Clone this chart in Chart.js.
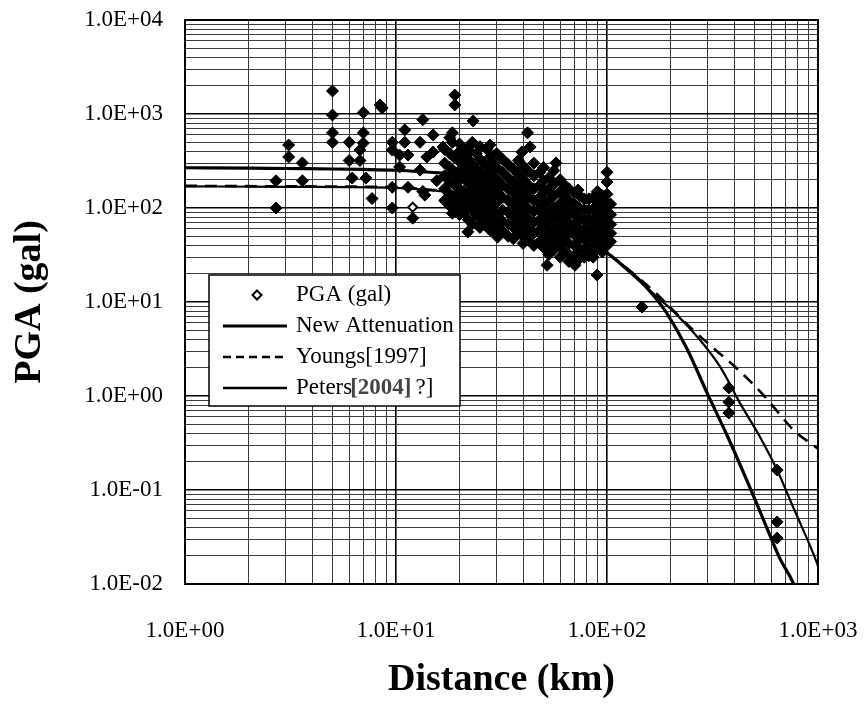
<!DOCTYPE html>
<html>
<head>
<meta charset="utf-8">
<script src="https://cdn.jsdelivr.net/npm/chart.js@4.4.1/dist/chart.umd.min.js"></script>
<style>
  html, body { margin: 0; padding: 0; background: #fff; }
  canvas { display: block; }
</style>
</head>
<body>
<canvas id="c" width="865" height="713"></canvas>
<script>
// ---------- Axis ticks ----------
const xDecades = [1, 10, 100, 1000];
const xTickLabels = ['1.0E+00', '1.0E+01', '1.0E+02', '1.0E+03'];
const yDecades = [0.01, 0.1, 1, 10, 100, 1000, 10000];
const yTickLabels = ['1.0E-02', '1.0E-01', '1.0E+00', '1.0E+01', '1.0E+02', '1.0E+03', '1.0E+04'];

// ---------- Observed PGA (isolated points) ----------
const pgaDistance = [2.7, 2.7, 3.1, 3.1, 3.6, 3.6, 5.0, 5.0, 5.0, 5.0, 6.0, 6.0, 6.2, 6.75, 6.75,
  7.0, 7.0, 7.0, 7.2, 7.7, 8.4, 8.6, 9.6, 9.6, 9.6, 9.6, 10.4, 10.4, 11.0, 11.0, 11.4, 11.4, 12.0,
  13.0, 13.0, 13.4, 13.4, 13.7, 14.0, 15.0, 15.0, 15.6, 16.7, 19.0, 19.0, 18.5, 18.5, 18.5, 18.5, 18.5,
  21.9, 27.3, 23.2, 22.4, 27.9, 30.3, 42, 43.2, 39.5, 57.3, 100, 100, 64.6, 72.9, 52, 70.5, 89.7,
  146.5, 378, 378, 378, 640, 640, 640];
const pgaValue = [195, 100, 468, 349, 302, 195, 1758, 975, 630, 500, 500, 320, 208, 414, 320,
  1037, 630, 490, 208, 126, 1248, 1159, 500, 414, 166, 100, 366, 273, 677, 500, 366, 166, 78,
  500, 253, 870, 150, 137, 349, 598, 394, 195, 446, 1592, 1248, 630, 500, 253, 100, 88,
  55.6, 61, 843, 394, 468, 49, 630, 446, 394, 302, 240, 189, 155, 155, 24.6, 24.6, 19.4,
  8.85, 1.22, 0.86, 0.66, 0.163, 0.0457, 0.0308];

// ---------- Observed PGA (dense cloud, per distance bin) ----------
const cloudDistance = [17, 18, 19, 20, 21, 22, 23, 24, 25, 26, 27, 28, 29, 30, 32, 34, 36, 38, 40, 42,
  45, 48, 50, 53, 56, 60, 63, 66, 70, 74, 78, 82, 86, 90, 95, 100, 104];
const cloudValues = [
  [420, 300, 220, 160, 120],
  [560, 380, 270, 190, 140, 105],
  [340, 230, 175, 125, 95],
  [480, 400, 310, 250, 200, 160, 130, 110, 85],
  [360, 270, 210, 150, 115, 90],
  [440, 330, 240, 185, 140, 105, 75],
  [500, 290, 220, 170, 125, 95, 68],
  [380, 260, 200, 150, 115, 85],
  [450, 330, 240, 180, 135, 100, 78, 62],
  [300, 220, 160, 120, 90, 70],
  [420, 280, 200, 150, 110, 82],
  [350, 250, 185, 140, 100, 75, 58],
  [300, 215, 160, 120, 88, 66],
  [380, 270, 200, 150, 115, 85, 65, 52],
  [330, 240, 175, 130, 95, 72, 56],
  [290, 210, 160, 120, 90, 68, 50],
  [260, 190, 145, 110, 82, 62, 47],
  [320, 230, 170, 125, 95, 72, 55],
  [280, 205, 150, 115, 88, 66, 50, 42],
  [250, 180, 135, 100, 78, 60, 46],
  [300, 220, 160, 120, 92, 70, 54, 40],
  [240, 175, 130, 98, 75, 58, 44],
  [270, 195, 145, 110, 85, 65, 50, 38],
  [210, 160, 120, 92, 72, 55, 42, 32],
  [250, 180, 135, 100, 78, 60, 46, 36],
  [200, 150, 112, 86, 66, 52, 40, 30],
  [175, 130, 98, 76, 58, 45, 34],
  [160, 120, 92, 70, 54, 42, 32, 27],
  [145, 110, 85, 66, 52, 40, 31],
  [135, 100, 78, 60, 47, 37, 29],
  [125, 95, 74, 58, 46, 36, 30],
  [125, 95, 76, 60, 48, 38, 31],
  [130, 98, 76, 60, 48, 38, 30],
  [150, 115, 90, 70, 56, 44, 36],
  [135, 102, 80, 63, 50, 40, 34],
  [140, 110, 88, 70, 57, 47, 40],
  [110, 85, 67, 54, 44]
];

// hollow marker point
const hollowDistance = [12.0];
const hollowValue = [102];

// ---------- Attenuation curves ----------
const newAttDistance = [1, 2, 3, 5, 7, 10, 13, 17.5, 25, 35, 50, 70, 96, 120, 143, 170, 192, 239, 298, 371, 461, 548, 661, 762, 850];
const newAttPga = [268, 266, 263, 260, 257, 252, 244, 232, 200, 150, 100, 62, 36, 24, 17, 11, 7.6, 3.2, 1.08, 0.38, 0.125, 0.050, 0.0185, 0.0103, 0.005];

const youngsDistance = [1, 3, 10, 13, 16.7, 25, 35, 50, 70, 96, 130, 170, 210, 256, 332, 395, 531, 640, 762, 989, 1000];
const youngsPga = [172, 170, 166, 160, 152, 136, 116, 86, 58, 36, 21, 12.5, 7.8, 5.04, 3.0, 2.15, 1.12, 0.69, 0.44, 0.28, 0.275];

const petersenDistance = [1, 3, 10, 13, 16.7, 25, 35, 50, 70, 96, 130, 173, 206, 276, 344, 427, 531, 640, 762, 989, 1000];
const petersenPga = [170, 168, 164, 158, 150, 135, 115, 85, 58, 36, 20, 11.3, 8.0, 3.94, 2.04, 0.84, 0.366, 0.163, 0.066, 0.0167, 0.0155];

// ---------- Build datasets ----------
const toXY = (xs, ys) => xs.map((x, i) => ({ x: x, y: ys[i] }));
const scatterPts = toXY(pgaDistance, pgaValue);
cloudDistance.forEach((d, i) => cloudValues[i].forEach(v => scatterPts.push({ x: d, y: v })));

const minorMult = [1, 2, 3, 4, 5, 6, 7, 8, 9];
function gridValues(decades) {
  const out = [];
  decades.forEach((d, i) => {
    if (i === decades.length - 1) { out.push(d); return; }
    minorMult.forEach(m => out.push(+(d * m).toPrecision(6)));
  });
  return out;
}
const xGrid = gridValues(xDecades);
const yGrid = gridValues(yDecades);

const FONT = "'Liberation Serif', 'Times New Roman', serif";

const bgPlugin = {
  id: 'bg',
  beforeDraw(chart) {
    const c = chart.ctx;
    c.save(); c.fillStyle = '#fff'; c.fillRect(0, 0, chart.width, chart.height); c.restore();
  }
};
const framePlugin = {
  id: 'frame',
  afterDatasetsDraw(chart) {
    const a = chart.chartArea, c = chart.ctx;
    c.save(); c.strokeStyle = '#000'; c.lineWidth = 2;
    c.strokeRect(a.left, a.top, a.right - a.left, a.bottom - a.top);
    c.restore();
  }
};
const legendPlugin = {
  id: 'customLegend',
  afterDraw(chart) {
    const c = chart.ctx;
    c.save();
    const bx = 209, by = 275, bw = 251, bh = 131;
    c.fillStyle = '#fff'; c.fillRect(bx, by, bw, bh);
    c.strokeStyle = '#000'; c.lineWidth = 1.5; c.strokeRect(bx, by, bw, bh);
    const x0 = 223, x1 = 287, tx = 296;
    const rows = [295, 326, 357, 388];
    c.font = '23px ' + FONT; c.fillStyle = '#000'; c.textBaseline = 'middle'; c.textAlign = 'left';
    // row 1 hollow diamond
    c.beginPath();
    c.moveTo(257, rows[0] - 4.5); c.lineTo(261.5, rows[0]); c.lineTo(257, rows[0] + 4.5); c.lineTo(252.5, rows[0]); c.closePath();
    c.lineWidth = 2; c.strokeStyle = '#000'; c.fillStyle = '#fff'; c.fill(); c.stroke();
    c.fillStyle = '#000';
    c.fillText('PGA (gal)', tx, rows[0]);
    // row 2
    c.beginPath(); c.lineWidth = 3; c.setLineDash([]); c.moveTo(x0, rows[1]); c.lineTo(x1, rows[1]); c.stroke();
    c.fillText('New Attenuation', tx, rows[1]);
    // row 3
    c.beginPath(); c.lineWidth = 2.5; c.setLineDash([8, 5]); c.moveTo(x0, rows[2]); c.lineTo(x1, rows[2]); c.stroke();
    c.setLineDash([]);
    c.fillText('Youngs[1997]', tx, rows[2]);
    // row 4
    c.beginPath(); c.lineWidth = 2.5; c.moveTo(x0, rows[3]); c.lineTo(x1, rows[3]); c.stroke();
    c.fillText('Peters', tx, rows[3]);
    let w = c.measureText('Peters').width;
    c.font = 'bold 23px ' + FONT; c.fillStyle = '#444';
    c.fillText('[2004]', tx + w - 2, rows[3]);
    let w2 = c.measureText('[2004]').width;
    c.font = '23px ' + FONT; c.fillStyle = '#000';
    c.fillText('?]', tx + w + w2 + 2, rows[3]);
    c.restore();
  }
};

const labelFor = (decades, labels) => (value) => {
  const i = decades.indexOf(value);
  return i >= 0 ? labels[i] : '';
};
const isDecade = (decades, v) => decades.indexOf(v) >= 0;

new Chart(document.getElementById('c'), {
  type: 'scatter',
  data: {
    datasets: [
      { label: 'PGA (gal)', type: 'scatter', data: scatterPts, pointStyle: 'rectRot', pointRadius: 6,
        backgroundColor: '#000', borderColor: '#000', borderWidth: 1, order: 1 },
      { label: 'PGA hollow', type: 'scatter', data: toXY(hollowDistance, hollowValue), pointStyle: 'rectRot', pointRadius: 4.5,
        backgroundColor: '#fff', borderColor: '#000', borderWidth: 2, order: 0 },
      { label: 'New Attenuation', type: 'line', data: toXY(newAttDistance, newAttPga), borderColor: '#000',
        borderWidth: 3.2, pointRadius: 0, cubicInterpolationMode: 'monotone', fill: false, order: 2 },
      { label: 'Youngs[1997]', type: 'line', data: toXY(youngsDistance, youngsPga), borderColor: '#000',
        borderWidth: 2.6, borderDash: [12, 8], pointRadius: 0, cubicInterpolationMode: 'monotone', fill: false, order: 3 },
      { label: 'Petersen[2004]', type: 'line', data: toXY(petersenDistance, petersenPga), borderColor: '#000',
        borderWidth: 2.2, pointRadius: 0, cubicInterpolationMode: 'monotone', fill: false, order: 4 }
    ]
  },
  options: {
    responsive: false,
    animation: false,
    layout: { padding: { top: 20, right: 47, left: 0, bottom: 0 } },
    plugins: { legend: { display: false }, tooltip: { enabled: false } },
    scales: {
      x: {
        type: 'logarithmic', min: 1, max: 1000,
        afterBuildTicks(s) { s.ticks = xGrid.map(v => ({ value: v, major: isDecade(xDecades, v) })); },
        afterFit(s) { s.height = 129; s.paddingLeft = 0; s.paddingRight = 0; s.paddingTop = 0; s.paddingBottom = 0; },
        ticks: { callback: labelFor(xDecades, xTickLabels), autoSkip: false, maxRotation: 0, minRotation: 0,
          color: '#000', font: { family: FONT, size: 23 }, padding: 33 },
        grid: { drawTicks: false, color: (ctx) => isDecade(xDecades, ctx.tick && ctx.tick.value) ? '#000' : '#3a3a3a',
          lineWidth: (ctx) => isDecade(xDecades, ctx.tick && ctx.tick.value) ? 1.6 : 1 },
        border: { display: true, color: '#000', width: 2 },
        title: { display: true, text: 'Distance (km)', color: '#000',
          font: { family: FONT, size: 38, weight: 'bold' }, padding: { top: 0, bottom: 10 } }
      },
      y: {
        type: 'logarithmic', min: 0.01, max: 10000,
        afterBuildTicks(s) { s.ticks = yGrid.map(v => ({ value: v, major: isDecade(yDecades, v) })); },
        afterFit(s) { s.width = 185; s.paddingLeft = 0; s.paddingRight = 0; s.paddingTop = 0; s.paddingBottom = 0; },
        ticks: { callback: labelFor(yDecades, yTickLabels), autoSkip: false,
          color: '#000', font: { family: FONT, size: 23 }, padding: 22 },
        grid: { drawTicks: false, color: (ctx) => isDecade(yDecades, ctx.tick && ctx.tick.value) ? '#000' : '#3a3a3a',
          lineWidth: (ctx) => isDecade(yDecades, ctx.tick && ctx.tick.value) ? 1.6 : 1 },
        border: { display: true, color: '#000', width: 2 },
        title: { display: true, text: 'PGA (gal)', color: '#000',
          font: { family: FONT, size: 38, weight: 'bold' }, padding: { top: 7, bottom: 0 } }
      }
    }
  },
  plugins: [bgPlugin, framePlugin, legendPlugin]
});
</script>
</body>
</html>
